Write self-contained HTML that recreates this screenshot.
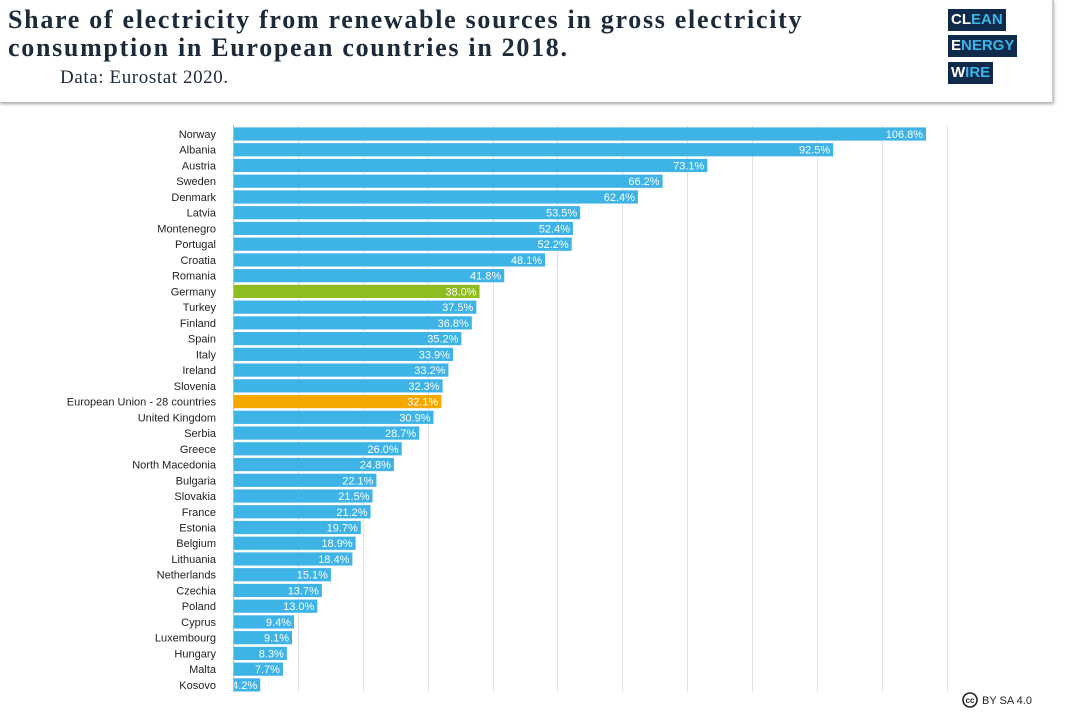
<!DOCTYPE html><html><head><meta charset="utf-8"><style>
body{margin:0;width:1067px;height:720px;background:#fff;overflow:hidden;position:relative;font-family:"Liberation Sans",sans-serif}
.hdr{position:absolute;left:0;top:0;width:1052px;height:102px;background:#fff;box-shadow:0 2px 3px rgba(0,0,0,.35);border-right:2px solid #ccc}
.t{position:absolute;left:8px;top:6px;font-family:"Liberation Serif",serif;font-weight:bold;font-size:26px;letter-spacing:1.7px;line-height:28px;color:#1c2a3a;white-space:nowrap}
.s{position:absolute;left:60px;top:67px;font-family:"Liberation Serif",serif;font-size:19px;letter-spacing:0.6px;color:#1c2a3a}
.lg{position:absolute;left:948px;font-family:"Liberation Sans",sans-serif;font-weight:bold;font-size:15px;background:#0f2a4a;color:#3db3e6;padding:0 3px;height:22px;line-height:22px}
.lg b{color:#fff}
</style></head><body>
<div class="hdr"></div>
<div class="t">Share of electricity from renewable sources in gross electricity<br>consumption in European countries in 2018.</div>
<div class="s">Data: Eurostat 2020.</div>
<div class="lg" style="top:9px"><b>CL</b>EAN</div>
<div class="lg" style="top:35px"><b>E</b>NERGY</div>
<div class="lg" style="top:62px"><b>W</b>IRE</div>
<svg width="1067" height="720" style="position:absolute;left:0;top:0" font-family="Liberation Sans, sans-serif" font-size="11">
<g stroke="#e2e2e2" stroke-width="1" id="grid"></g>
<g id="bars"></g>
<line x1="233.5" y1="125" x2="233.5" y2="692" stroke="#bbb"/>
<circle cx="970" cy="700" r="7" fill="none" stroke="#222" stroke-width="1.6"/>
<text x="970" y="703" font-size="8" font-weight="bold" text-anchor="middle" fill="#222">cc</text>
<text x="982" y="704" font-size="11" fill="#222">BY SA 4.0</text>
</svg>
<script>
const d=[["Norway",106.8],["Albania",92.5],["Austria",73.1],["Sweden",66.2],["Denmark",62.4],["Latvia",53.5],["Montenegro",52.4],["Portugal",52.2],["Croatia",48.1],["Romania",41.8],["Germany",38.0],["Turkey",37.5],["Finland",36.8],["Spain",35.2],["Italy",33.9],["Ireland",33.2],["Slovenia",32.3],["European Union - 28 countries",32.1],["United Kingdom",30.9],["Serbia",28.7],["Greece",26.0],["North Macedonia",24.8],["Bulgaria",22.1],["Slovakia",21.5],["France",21.2],["Estonia",19.7],["Belgium",18.9],["Lithuania",18.4],["Netherlands",15.1],["Czechia",13.7],["Poland",13.0],["Cyprus",9.4],["Luxembourg",9.1],["Hungary",8.3],["Malta",7.7],["Kosovo",4.2]];
const ns="http://www.w3.org/2000/svg",s=6.489,x0=233;
const g=document.getElementById("grid"),b=document.getElementById("bars");
for(let i=1;i<=11;i++){const l=document.createElementNS(ns,"line");const x=Math.round(x0+i*10*s)+.5;l.setAttribute("x1",x);l.setAttribute("x2",x);l.setAttribute("y1",125);l.setAttribute("y2",692);g.appendChild(l);}
d.forEach((r,i)=>{const cy=134+i*15.74,w=r[1]*s;
const c=r[0]=="Germany"?"#8fbc1e":r[0].startsWith("European")?"#f5a800":"#3db3e6";
const re=document.createElementNS(ns,"rect");re.setAttribute("x",x0);re.setAttribute("y",cy-6.6);re.setAttribute("width",w);re.setAttribute("height",13.2);re.setAttribute("fill",c);b.appendChild(re);
let t=document.createElementNS(ns,"text");t.setAttribute("x",216);t.setAttribute("y",cy+4);t.setAttribute("text-anchor","end");t.setAttribute("fill","#222");t.textContent=r[0];b.appendChild(t);
t=document.createElementNS(ns,"text");t.setAttribute("x",x0+w-3);t.setAttribute("y",cy+4);t.setAttribute("text-anchor","end");t.setAttribute("fill","#fff");t.textContent=r[1].toFixed(1)+"%";b.appendChild(t);});
</script>
</body></html>
